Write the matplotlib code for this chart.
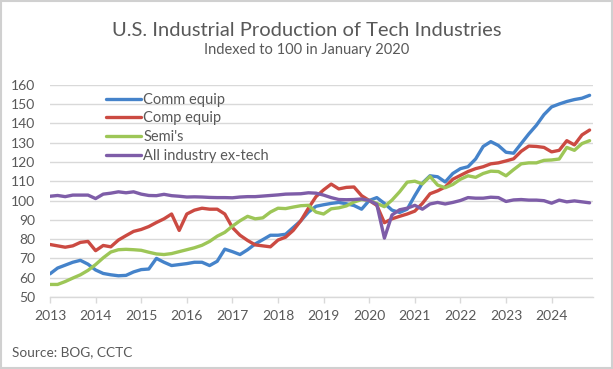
import numpy as np
import matplotlib
matplotlib.use("Agg")
import matplotlib.pyplot as plt

# ---------- Data (bi-monthly readings, Jan 2013 .. Nov 2024) ----------
start_year = 2013
n_points = 72          # every second month
years = list(range(2013, 2025))

comm_equip = [
    62, 65, 66.5, 68, 69, 67, 64, 62.2, 61.5, 61,
    61.2, 63, 64.2, 64.5, 70, 68, 66.3, 66.8, 67.3, 68,
    68, 66.3, 68.5, 74.8, 73.5, 72, 74.5, 77.5, 79.7, 82,
    82, 82.5, 86, 89.5, 94, 97, 97.8, 98.5, 99, 98.3,
    97.4, 95.5, 100, 101.5, 98.5, 95, 93.8, 95.5, 102.5, 109,
    112.8, 112.3, 109.6, 114, 116.5, 117.5, 121.5, 128, 130.5, 128.5,
    125, 124.5, 129.5, 134.5, 139, 144.5, 148.5, 150, 151.3, 152.3,
    153, 154.5,
]

comp_equip = [
    77.2, 76.5, 75.8, 76.5, 78.3, 78.8, 74, 76.7, 76, 79.5,
    81.8, 84, 85, 86.5, 88.6, 90.5, 93, 84.5, 93, 95,
    96, 95.5, 95.5, 93, 86, 82, 79.3, 77, 76.5, 76,
    79.5, 81, 84.5, 89.5, 96, 102, 105.5, 108.5, 106, 106.8,
    107, 102.5, 100, 97.5, 88.5, 90.5, 91.8, 93, 94.5, 98.5,
    103.5, 105, 107, 111, 113, 115, 116.5, 117.5, 119, 119.5,
    120.5, 121.6, 125.5, 128.2, 128, 127.5, 125.2, 126, 131, 128.8,
    134, 136.5,
]

semis = [
    56.5, 56.5, 58, 59.8, 61.5, 63.8, 66.8, 70.3, 73.3, 74.5,
    74.7, 74.5, 74.2, 73.2, 72.3, 72, 72.5, 73.5, 74.5, 75.5,
    76.8, 78.8, 81.5, 83.5, 86.7, 89.5, 91.8, 90.5, 91, 94,
    96, 95.8, 96.6, 97.3, 97.5, 94, 93, 95.7, 96.2, 97.2,
    99.2, 100.5, 100, 98.5, 96.8, 100.2, 104.5, 109.5, 110, 108.6,
    112.5, 108, 106.6, 108.3, 111, 112.8, 112, 114, 115.2, 115,
    112.8, 116, 119, 119.5, 119.5, 120.8, 121, 121.5, 127.5, 126,
    129.5, 131,
]

all_ex_tech = [
    102.2, 102.6, 102, 102.8, 102.8, 102.8, 101, 103.3, 103.8, 104.5,
    104, 104.5, 103.3, 102.6, 102.5, 103.2, 102.5, 102.2, 101.8, 101.9,
    101.8, 101.6, 101.5, 101.5, 101.4, 101.8, 102, 102, 102.3, 102.6,
    102.9, 103.3, 103.4, 103.5, 104, 103.8, 102.8, 101.5, 100.5, 100.4,
    100.5, 100.8, 100, 98, 80.5, 92.5, 95.2, 96, 97.5, 95.5,
    98.2, 99, 98.2, 99, 100, 101.5, 101.2, 101.2, 101.7, 101.5,
    99.5, 100.3, 100.5, 100.2, 100.2, 99.9, 98.6, 100.2, 99.3, 99.8,
    99.3, 98.8,
]

series = [
    ("Comm equip", comm_equip, "#4583CA"),
    ("Comp equip", comp_equip, "#CB4A42"),
    ("Semi's", semis, "#9DC657"),
    ("All industry ex-tech", all_ex_tech, "#7E5DA8"),
]

# decimal year for each bi-monthly reading
x = start_year + np.arange(n_points) / 6.0

# ---------- Figure ----------
plt.rcParams["font.family"] = ["Lato", "DejaVu Sans"]
text_color = "#595959"
grid_color = "#d9d9d9"

W, H = 613, 369
fig = plt.figure(figsize=(W / 100, H / 100), dpi=100)

left, right, top, bottom = 50, 593, 84.7, 297
ax = fig.add_axes([left / W, 1 - bottom / H, (right - left) / W, (bottom - top) / H])

for label, vals, color in series:
    ax.plot(x, vals, color=color, linewidth=2.4, label=label,
            solid_joinstyle="round", solid_capstyle="round")

ax.set_xlim(2013, 2013 + (right - left) / 45.6)
ax.set_ylim(50, 160)
ax.set_yticks(range(50, 161, 10))
ax.set_xticks(years)
ax.set_xticklabels([str(y) for y in years])

ax.grid(axis="y", color=grid_color, linewidth=1.0)
ax.set_axisbelow(True)

for side in ["top", "right", "left"]:
    ax.spines[side].set_visible(False)
ax.spines["bottom"].set_color(grid_color)
ax.spines["bottom"].set_linewidth(1.0)

ax.tick_params(axis="y", length=0, pad=10.5, labelsize=10, labelcolor=text_color)
ax.tick_params(axis="x", length=4, width=1.0, color=grid_color, pad=5,
               labelsize=10, labelcolor=text_color)

# ---------- Legend ----------
ax.legend(
    loc="upper left",
    bbox_to_anchor=(0.103, 0.962),
    frameon=False,
    fontsize=10.5,
    handlelength=2.4,
    handletextpad=0.15,
    labelspacing=0.32,
    borderpad=0,
    borderaxespad=0,
    labelcolor=text_color,
)

# ---------- Titles / source ----------
fig.text(0.5, 1 - 31 / H, "U.S. Industrial Production of Tech Industries",
         ha="center", va="center", fontsize=14.5, color=text_color)
fig.text(0.5, 1 - 50 / H, "Indexed to 100 in January 2020",
         ha="center", va="center", fontsize=10.5, color=text_color)
fig.text(12 / W, 1 - 352 / H, "Source: BOG, CCTC",
         ha="left", va="center", fontsize=9.8, color=text_color)

# chart border
fig.add_artist(plt.Rectangle((0.0015, 0.0025), 0.997, 0.995,
                             transform=fig.transFigure, fill=False,
                             edgecolor="#d0d0d0", linewidth=1.5))

fig.savefig("out.png", dpi=100)
